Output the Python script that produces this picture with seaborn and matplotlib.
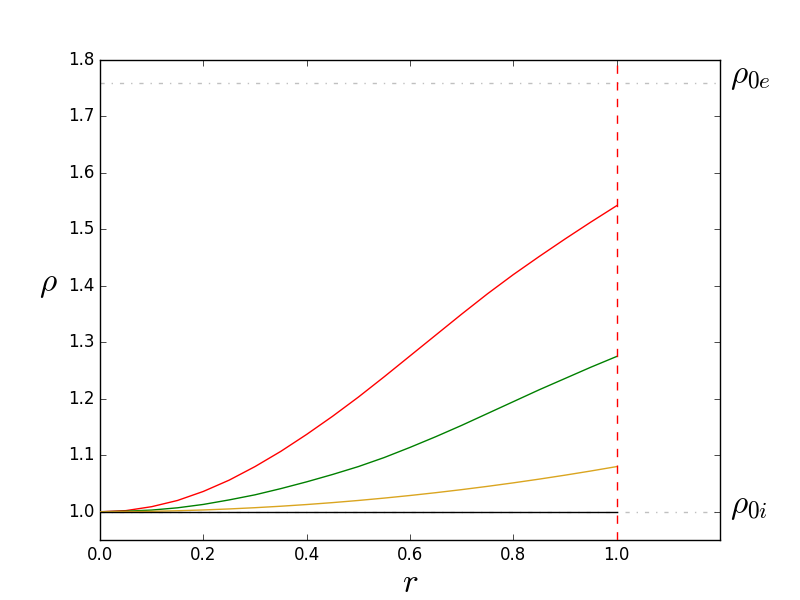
import numpy as np
import pandas as pd
import seaborn as sns
from matplotlib import pyplot as plt

# radial positions and density profiles
r = [0.00, 0.05, 0.10, 0.15, 0.20, 0.25, 0.30, 0.35, 0.40, 0.45, 0.50,
     0.55, 0.60, 0.65, 0.70, 0.75, 0.80, 0.85, 0.90, 0.95, 1.00]
rho_red = [1.000, 1.002, 1.009, 1.020, 1.036, 1.056, 1.080, 1.107, 1.137, 1.169, 1.203,
           1.239, 1.276, 1.313, 1.350, 1.386, 1.420, 1.452, 1.483, 1.513, 1.542]
rho_green = [1.000, 1.001, 1.003, 1.007, 1.013, 1.021, 1.030, 1.041, 1.053, 1.066, 1.080,
             1.096, 1.114, 1.133, 1.153, 1.174, 1.195, 1.216, 1.236, 1.256, 1.275]
rho_gold = [1.0000, 1.0002, 1.0008, 1.0018, 1.0032, 1.0050, 1.0072, 1.0098, 1.0128, 1.0162, 1.0200,
            1.0242, 1.0288, 1.0338, 1.0392, 1.0450, 1.0512, 1.0578, 1.0648, 1.0722, 1.0800]
rho_flat = [1.0] * len(r)

rho_0e = 1.76
rho_0i = 1.0
r_edge = 1.0

series = {"red": rho_red, "green": rho_green, "goldenrod": rho_gold, "black": rho_flat}
df = pd.concat([pd.DataFrame({"r": r, "rho": v, "profile": k}) for k, v in series.items()])

plt.style.use("classic")
plt.rcParams["mathtext.fontset"] = "cm"
plt.rcParams["figure.facecolor"] = "white"
plt.rcParams["savefig.facecolor"] = "white"

fig, ax = plt.subplots(figsize=(8, 6), dpi=100)

ax.axhline(rho_0e, color="silver", linestyle="-.", linewidth=1, zorder=1)
ax.axhline(rho_0i, color="silver", linestyle="-.", linewidth=1, zorder=1)

sns.lineplot(data=df, x="r", y="rho", hue="profile",
             palette={k: k for k in series}, linewidth=1,
             legend=False, ax=ax, zorder=3)

ax.axvline(r_edge, color="red", linestyle="--", linewidth=1, zorder=4)

ax.set_xlim(0, 1.2)
ax.set_ylim(0.95, 1.8)
ax.set_xticks([0.0, 0.2, 0.4, 0.6, 0.8, 1.0])
ax.set_yticks(np.arange(1.0, 1.81, 0.1))
ax.tick_params(direction="in", top=True, right=True, labelsize=12)

ax.set_xlabel(r"$r$", fontsize=24, labelpad=2)
ax.set_ylabel(r"$\rho$", fontsize=24, rotation=0, labelpad=14)

# side labels for the interior/exterior densities
ax.text(1.22, rho_0e + 0.012, r"$\rho_{0e}$", fontsize=24, va="center", ha="left")
ax.text(1.22, rho_0i + 0.011, r"$\rho_{0i}$", fontsize=24, va="center", ha="left")

plt.savefig("out.png", dpi=100)
